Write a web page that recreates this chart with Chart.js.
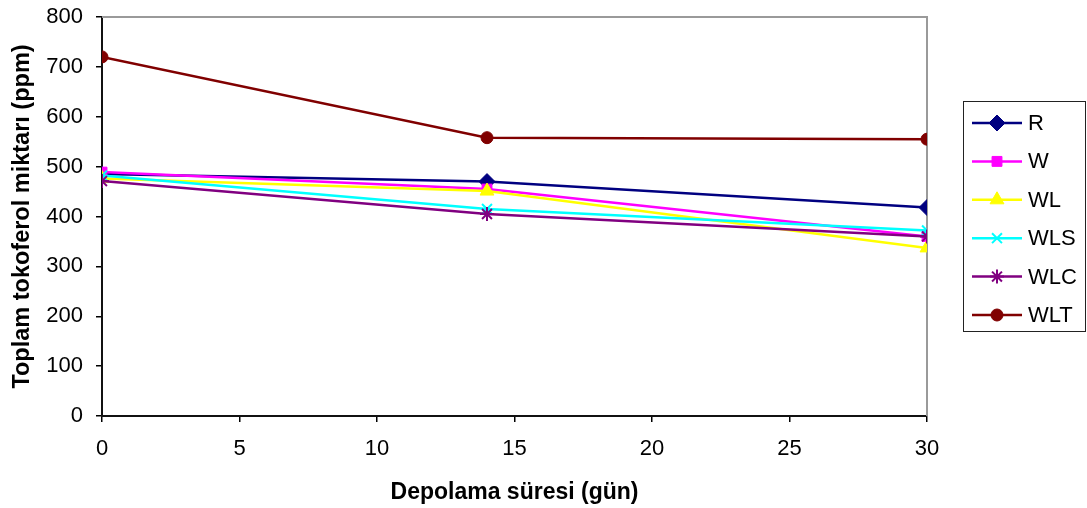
<!DOCTYPE html>
<html>
<head>
<meta charset="utf-8">
<script src="https://cdn.jsdelivr.net/npm/chart.js@4/dist/chart.umd.min.js"></script>
<style>
  html, body { margin: 0; padding: 0; background: #fff; }
  #wrap { width: 1087px; height: 508px; }
</style>
</head>
<body>
<div id="wrap"><canvas id="c" width="1087" height="508"></canvas></div>
<script>
// Storage time in days
const days = [0, 14, 30];

// Total tocopherol (ppm) per sample
const seriesR   = [485, 470, 418];
const seriesW   = [489, 455, 360];
const seriesWL  = [476, 451, 337];
const seriesWLS = [482, 415, 372];
const seriesWLC = [471, 405, 360];
const seriesWLT = [720, 558, 555];

const seriesNames = ['R', 'W', 'WL', 'WLS', 'WLC', 'WLT'];
const seriesData = [seriesR, seriesW, seriesWL, seriesWLS, seriesWLC, seriesWLT];
const seriesColors = ['#000080', '#FF00FF', '#FFFF00', '#00FFFF', '#800080', '#800000'];
const seriesMarkers = ['rectRot', 'rect', 'triangle', 'crossRot', 'star', 'circle'];
const seriesMarkerSize = [8, 7, 8, 7, 7, 6];

const xTickValues = [0, 5, 10, 15, 20, 25, 30];
const yTickValues = [0, 100, 200, 300, 400, 500, 600, 700, 800];

const xTitle = 'Depolama süresi (gün)';
const yTitle = 'Toplam tokoferol miktarı (ppm)';

const FONT = '"Liberation Sans", Arial, sans-serif';

const datasets = seriesNames.map((name, i) => ({
  label: name,
  data: days.map((d, j) => ({ x: d, y: seriesData[i][j] })),
  borderColor: seriesColors[i],
  backgroundColor: seriesColors[i],
  pointBorderColor: seriesColors[i],
  pointBackgroundColor: seriesColors[i],
  borderWidth: 2.5,
  pointStyle: seriesMarkers[i],
  pointRadius: seriesMarkerSize[i],
  pointBorderWidth: (seriesMarkers[i] === 'crossRot' || seriesMarkers[i] === 'star') ? 2 : 1,
  pointHoverRadius: seriesMarkerSize[i],
  tension: 0,
  order: seriesNames.length - i
}));

// Gray frame on the top and right of the plot area
const frameBorder = {
  id: 'frameBorder',
  beforeDatasetsDraw(chart) {
    const { ctx, chartArea: a } = chart;
    ctx.save();
    ctx.strokeStyle = '#9a9a9a';
    ctx.lineWidth = 2;
    ctx.beginPath();
    ctx.moveTo(a.left, a.top);
    ctx.lineTo(a.right, a.top);
    ctx.lineTo(a.right, a.bottom);
    ctx.stroke();
    ctx.restore();
  }
};

// Boxed legend with a line segment and marker for each series
const boxedLegend = {
  id: 'boxedLegend',
  afterDraw(chart) {
    const { ctx } = chart;
    const box = { x: 963.5, y: 101.5, w: 122, h: 230 };
    ctx.save();
    ctx.fillStyle = '#fff';
    ctx.fillRect(box.x, box.y, box.w, box.h);
    ctx.strokeStyle = '#222';
    ctx.lineWidth = 1;
    ctx.strokeRect(box.x, box.y, box.w, box.h);
    const rowGap = 38.4;
    const firstY = 123;
    chart.data.datasets.forEach((ds, i) => {
      const y = firstY + i * rowGap;
      ctx.strokeStyle = ds.borderColor;
      ctx.lineWidth = 2.5;
      ctx.beginPath();
      ctx.moveTo(972, y);
      ctx.lineTo(1022, y);
      ctx.stroke();
      ctx.fillStyle = ds.pointBackgroundColor;
      ctx.strokeStyle = ds.pointBorderColor;
      ctx.lineWidth = ds.pointBorderWidth;
      Chart.helpers.drawPoint(ctx, { pointStyle: ds.pointStyle, radius: ds.pointRadius, rotation: 0, borderWidth: ds.pointBorderWidth }, 997, y);
      ctx.fillStyle = '#000';
      ctx.font = '22px ' + FONT;
      ctx.textBaseline = 'middle';
      ctx.textAlign = 'left';
      ctx.fillText(ds.label, 1028, y + 1);
    });
    ctx.restore();
  }
};

new Chart(document.getElementById('c'), {
  type: 'line',
  data: { datasets },
  options: {
    responsive: false,
    animation: false,
    devicePixelRatio: 1,
    layout: { padding: { top: 17, right: 160, left: 0, bottom: 0 } },
    plugins: {
      legend: { display: false },
      tooltip: { enabled: false }
    },
    scales: {
      x: {
        type: 'linear',
        min: 0,
        max: 30,
        afterBuildTicks(scale) { scale.ticks = xTickValues.map(v => ({ value: v })); },
        afterFit(scale) { scale.height = 92; scale.paddingLeft = 0; scale.paddingRight = 0; },
        grid: { display: true, drawOnChartArea: false, drawTicks: true, tickLength: 6, color: '#000', lineWidth: 1.5 },
        border: { display: true, color: '#111', width: 2 },
        ticks: { color: '#000', font: { family: FONT, size: 22 }, padding: 14, maxRotation: 0 },
        title: { display: true, text: xTitle, color: '#000', font: { family: FONT, size: 23, weight: 'bold' }, padding: { top: 0, bottom: 2 } }
      },
      y: {
        type: 'linear',
        min: 0,
        max: 800,
        afterBuildTicks(scale) { scale.ticks = yTickValues.map(v => ({ value: v })); },
        afterFit(scale) { scale.width = 102; scale.paddingTop = 0; scale.paddingBottom = 0; },
        grid: { display: true, drawOnChartArea: false, drawTicks: true, tickLength: 6, color: '#000', lineWidth: 1.5 },
        border: { display: true, color: '#111', width: 2 },
        ticks: { color: '#000', font: { family: FONT, size: 22 }, padding: 13 },
        title: { display: true, text: yTitle, color: '#000', font: { family: FONT, size: 23.5, weight: 'bold' }, padding: { top: 8, bottom: 0 } }
      }
    }
  },
  plugins: [frameBorder, boxedLegend]
});
</script>
</body>
</html>
